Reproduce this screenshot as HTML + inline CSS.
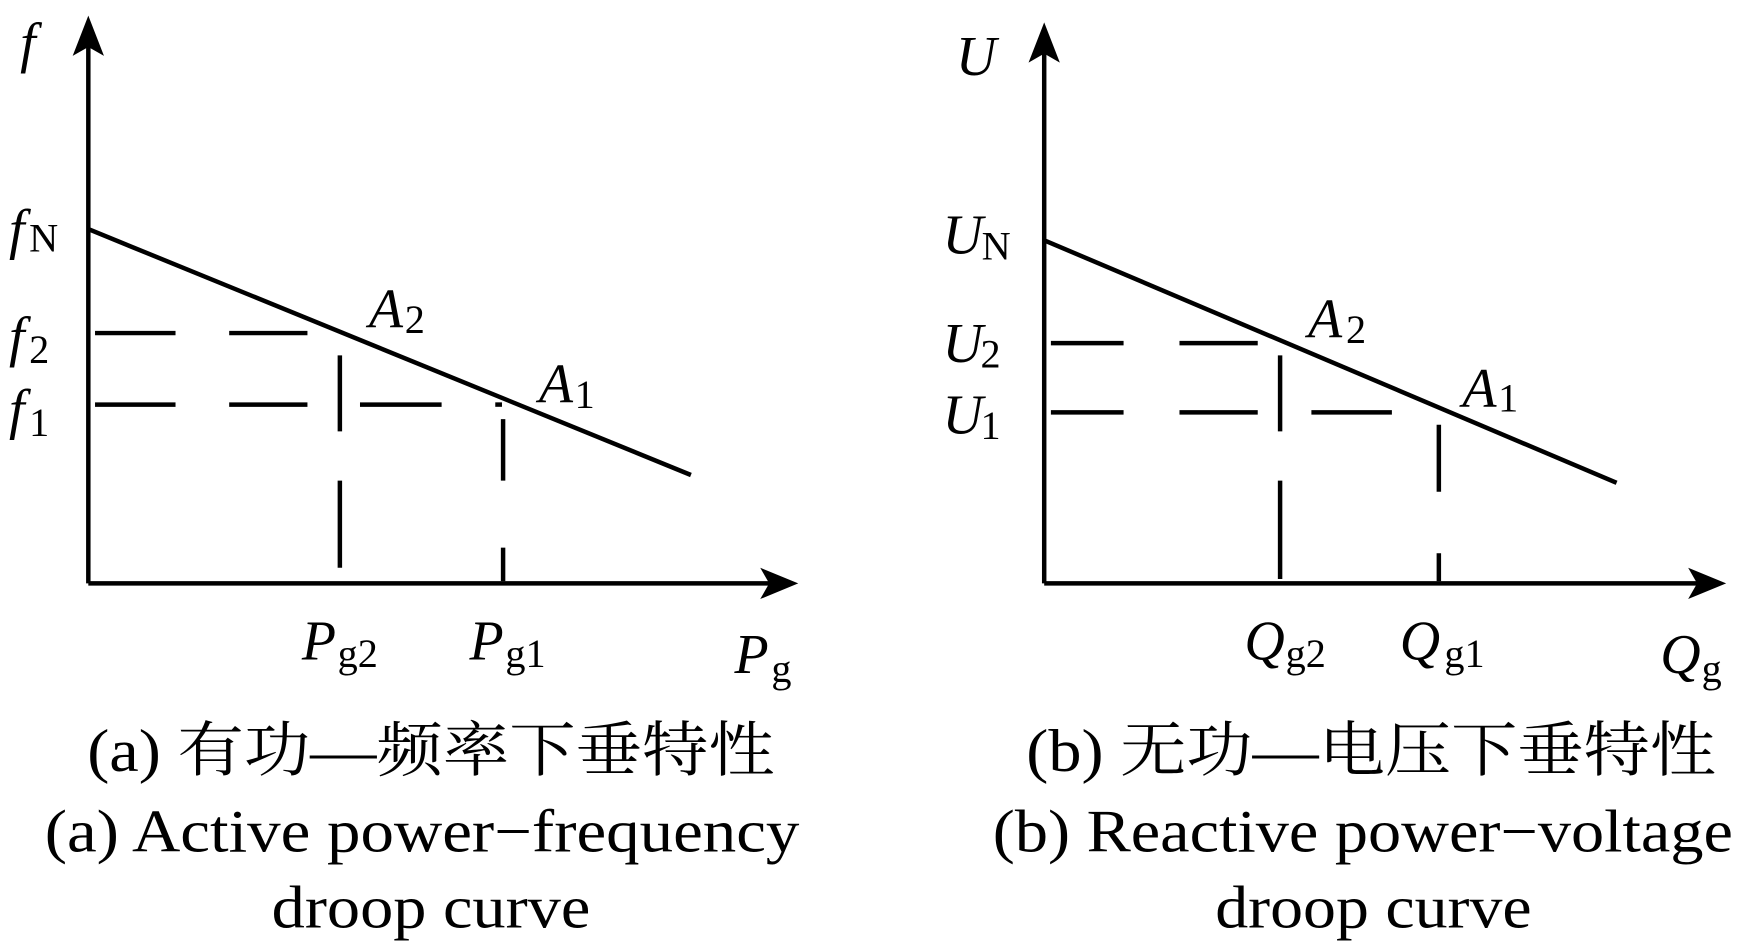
<!DOCTYPE html>
<html><head><meta charset="utf-8"><style>html,body{margin:0;padding:0;background:#fff}svg{display:block}
text{font-family:"Liberation Serif","Noto Serif CJK SC",serif}</style></head>
<body>
<svg width="1753" height="950" viewBox="0 0 1568 850" preserveAspectRatio="none" xmlns="http://www.w3.org/2000/svg">
<g stroke="#000" stroke-width="4" fill="none">
<line x1="79" y1="40" x2="79" y2="522"/>
<line x1="79" y1="522" x2="690" y2="522"/>
<line x1="79" y1="205" x2="618" y2="425"/>
<line x1="85" y1="298" x2="157" y2="298"/><line x1="205" y1="298" x2="275" y2="298"/>
<line x1="85" y1="362" x2="157" y2="362"/><line x1="205" y1="362" x2="275" y2="362"/><line x1="322" y1="362" x2="395" y2="362"/><line x1="443" y1="362" x2="449" y2="362"/>
<line x1="304" y1="318" x2="304" y2="386"/><line x1="304" y1="430" x2="304" y2="508"/>
<line x1="450" y1="375" x2="450" y2="430"/><line x1="450" y1="490" x2="450" y2="520"/>

<line x1="934" y1="45" x2="934" y2="522"/>
<line x1="934" y1="522" x2="1520" y2="522"/>
<line x1="934" y1="215" x2="1446" y2="432"/>
<line x1="940" y1="307" x2="1005" y2="307"/><line x1="1055" y1="307" x2="1125" y2="307"/>
<line x1="940" y1="369" x2="1005" y2="369"/><line x1="1055" y1="369" x2="1125" y2="369"/><line x1="1173" y1="369" x2="1245" y2="369"/>
<line x1="1145" y1="318" x2="1145" y2="386"/><line x1="1145" y1="430" x2="1145" y2="518"/>
<line x1="1287" y1="380" x2="1287" y2="440"/><line x1="1287" y1="495" x2="1287" y2="520"/>
</g>
<g fill="#000">
<polygon points="79,14 93,50 79,42 65,50"/>
<polygon points="714,522 680,508 688,522 680,536"/>
<polygon points="934,20 948,56 934,48 920,56"/>
<polygon points="1544,522 1510,508 1518,522 1510,536"/>
</g>
<g font-size="50" fill="#000">
<g font-style="italic">
<text x="18" y="55">f</text>
<text x="8" y="222">f</text>
<text x="8" y="318">f</text>
<text x="8" y="383">f</text>
<text x="330" y="293">A</text>
<text x="482" y="360">A</text>
<text x="270" y="590">P</text>
<text x="420" y="590">P</text>
<text x="657" y="602">P</text>
<text x="855" y="67">U</text>
<text x="843" y="227">U</text>
<text x="843" y="324">U</text>
<text x="843" y="388">U</text>
<text x="1170" y="302">A</text>
<text x="1308" y="364">A</text>
<text x="1113" y="590">Q</text>
<text x="1252" y="590">Q</text>
<text x="1485" y="602">Q</text>
</g>
<g font-size="36">
<text x="26" y="225">N</text>
<text x="26" y="325">2</text>
<text x="26" y="390">1</text>
<text x="362" y="298">2</text>
<text x="514" y="365">1</text>
<text x="302" y="597">g2</text>
<text x="452" y="597">g1</text>
<text x="690" y="610">g</text>
<text x="878" y="232">N</text>
<text x="877" y="329">2</text>
<text x="877" y="393">1</text>
<text x="1204" y="307">2</text>
<text x="1340" y="368">1</text>
<text x="1150" y="597">g2</text>
<text x="1292" y="597">g1</text>
<text x="1522" y="610">g</text>
</g>
<g font-size="54">
<text x="78" y="690" textLength="615" lengthAdjust="spacingAndGlyphs">(a) 有功—频率下垂特性</text>
<text x="40" y="762" textLength="675" lengthAdjust="spacingAndGlyphs">(a) Active power−frequency</text>
<text x="243" y="830" textLength="285" lengthAdjust="spacingAndGlyphs">droop curve</text>
<text x="918" y="690" textLength="617" lengthAdjust="spacingAndGlyphs">(b) 无功—电压下垂特性</text>
<text x="888" y="762" textLength="662" lengthAdjust="spacingAndGlyphs">(b) Reactive power−voltage</text>
<text x="1087" y="830" textLength="283" lengthAdjust="spacingAndGlyphs">droop curve</text>
</g>
</g>
</svg>
</body></html>
